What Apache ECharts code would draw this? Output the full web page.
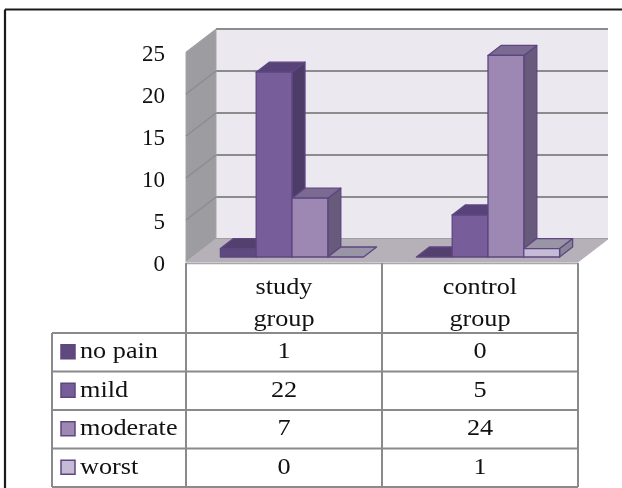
<!DOCTYPE html>
<html><head><meta charset="utf-8">
<style>html,body{margin:0;padding:0;background:#fff}#c{width:622px;height:488px}</style>
<script src="https://cdn.jsdelivr.net/npm/echarts@6/dist/echarts.min.js"></script>
</head><body><div id="c"></div>
<script>
const categories = ['study\ngroup', 'control\ngroup'];
const levels = ['no pain', 'mild', 'moderate', 'worst'];
const noPain = [1, 0];
const mild = [22, 5];
const moderate = [7, 24];
const worst = [0, 1];
const yTicks = [0, 5, 10, 15, 20, 25];
const front = ['#5f4a80', '#775d99', '#9c88b3', '#c5bbd6'];
const topFace = ['#54406f', '#57427a', '#7b6a91', '#9a95a6'];
const sideFace = ['#4a3862', '#4e3c68', '#675a7a', '#8a8596'];
const seriesValues = [noPain, mild, moderate, worst];

const FONT = '"Liberation Serif","Times New Roman",serif';
const edge = '#5e4680';
const DX = 30, DY = -23;      // floor/wall depth
const BX = 13, BY = -10;      // bar depth
const GL = 186, GR = 578, GT = 52, GB = 262;
const BW = 35.8;

function barSeries(idx) {
  return {
    type: 'custom', name: levels[idx], xAxisIndex: 0, yAxisIndex: 0, z: 5,
    data: seriesValues[idx].map((v, i) => [i, v]),
    renderItem(params, api) {
      const c = api.value(0), v = api.value(1);
      const base = api.coord([c, 0]), top = api.coord([c, v]);
      const x0 = base[0] + 8 + (idx - 2) * BW;
      const x1 = x0 + BW, yb = base[1] - 5, yt = top[1] - 5;
      const st = f => ({ fill: f, stroke: edge, lineWidth: 1.3, lineJoin: 'round' });
      const ch = [];
      if (v > 0) {
        ch.push({ type: 'polygon', shape: { points: [[x1, yb], [x1 + BX, yb + BY], [x1 + BX, yt + BY], [x1, yt]] }, style: st(sideFace[idx]) });
      }
      ch.push({ type: 'polygon', shape: { points: [[x0, yt], [x0 + BX, yt + BY], [x1 + BX, yt + BY], [x1, yt]] }, style: st(topFace[idx]) });
      if (v > 0) {
        ch.push({ type: 'rect', shape: { x: x0, y: yt, width: BW, height: yb - yt }, style: st(front[idx]) });
      }
      return { type: 'group', children: ch };
    }
  };
}

// Side wall, floor and the grid lines on the side wall
const wallSeries = {
  type: 'custom', xAxisIndex: 0, yAxisIndex: 0, z: 1, silent: true,
  data: yTicks.map(v => [0, v]),
  renderItem(params, api) {
    const v = api.value(1);
    const sys = params.coordSys;
    const y = api.coord([0, v])[1];
    const ch = [];
    if (v === 0) {
      const yTop = api.coord([0, yTicks[yTicks.length - 1]])[1];
      ch.push({ type: 'polygon', shape: { points: [[GL, y], [GL + DX, y + DY], [GL + DX, yTop + DY], [GL, yTop]] }, style: { fill: '#9d9da1', stroke: '#a5a5a8', lineWidth: 1 } });
      ch.push({ type: 'polygon', shape: { points: [[GL, y], [GL + DX, y + DY], [sys.x + sys.width + DX, y + DY], [sys.x + sys.width, y]] }, style: { fill: '#b6b1b9', stroke: '#b6b1b9', lineWidth: 1 } });
    } else if (v < yTicks[yTicks.length - 1]) {
      ch.push({ type: 'line', shape: { x1: GL, y1: y, x2: GL + DX, y2: y + DY }, style: { stroke: '#8c8c8c', lineWidth: 1.5 } });
    }
    return { type: 'group', children: ch };
  }
};

const graphics = [];
function line(x1, y1, x2, y2, w, color) {
  graphics.push({ type: 'line', z: 10, shape: { x1, y1, x2, y2 }, style: { stroke: color || '#8a8a8a', lineWidth: w || 2 } });
}
function label(text, cx, cy, align) {
  graphics.push({
    type: 'text', z: 11, x: cx, y: cy, scaleX: 1.14,
    style: { text, font: '23px ' + FONT, fill: '#111', align: align || 'center', verticalAlign: 'middle' }
  });
}
const rowY = [333, 371.5, 410, 448.5, 487];
const colX = [52, 186, 382, 578];
line(GL, GB + 1.5, GR, GB + 1.5, 1.5, '#a8a8a8');
rowY.forEach(y => line(colX[0], y, colX[3], y));
line(colX[0], rowY[0], colX[0], rowY[4]);
[1, 2, 3].forEach(i => line(colX[i], GB + 1, colX[i], rowY[4]));
levels.forEach((name, r) => {
  const cy = (rowY[r] + rowY[r + 1]) / 2;
  graphics.push({ type: 'rect', z: 11, shape: { x: 61, y: cy - 7.5, width: 14, height: 14 }, style: { fill: front[r], stroke: edge, lineWidth: 1.5 } });
  label(name, 80, cy, 'left');
  seriesValues[r].forEach((v, c) => label(String(v), (colX[c + 1] + colX[c + 2]) / 2, cy));
});
categories.forEach((name, c) => {
  name.split('\n').forEach((t, k) => label(t, (colX[c + 1] + colX[c + 2]) / 2, 288 + k * 32));
});
// frame: only the top and left edges are inside the picture
line(5, 9.5, 622, 9.5, 2.2, '#1a1a1a');
line(5, 9.5, 5, 488, 2.2, '#1a1a1a');

const chart = echarts.init(document.getElementById('c'), null, { renderer: 'canvas' });
chart.setOption({
  animation: false,
  backgroundColor: '#fff',
  grid: [
    { left: GL, top: GT, width: GR - GL, height: GB - GT, show: false },
    { left: GL + DX, top: GT + DY, width: GR - GL, height: GB - GT, show: true, backgroundColor: '#ebe8f0', borderWidth: 0, z: 0 }
  ],
  xAxis: [
    { type: 'category', gridIndex: 0, data: categories, axisLine: { show: false }, axisTick: { show: false }, axisLabel: { show: false } },
    { type: 'category', gridIndex: 1, data: categories, axisLine: { show: false }, axisTick: { show: false }, axisLabel: { show: false } }
  ],
  yAxis: [
    { type: 'value', gridIndex: 0, min: 0, max: 25, interval: 5, splitLine: { show: false }, axisLine: { show: false }, axisTick: { show: false },
      axisLabel: { fontFamily: FONT, fontSize: 23, color: '#111', margin: 21, verticalAlign: 'top', lineHeight: 6 } },
    { type: 'value', gridIndex: 1, min: 0, max: 25, interval: 5, axisLine: { show: false }, axisTick: { show: false }, axisLabel: { show: false },
      splitLine: { show: true, lineStyle: { color: '#8c8c8c', width: 2 } } }
  ],
  series: [wallSeries, barSeries(0), barSeries(1), barSeries(2), barSeries(3)],
  graphic: graphics
});
</script></body></html>
